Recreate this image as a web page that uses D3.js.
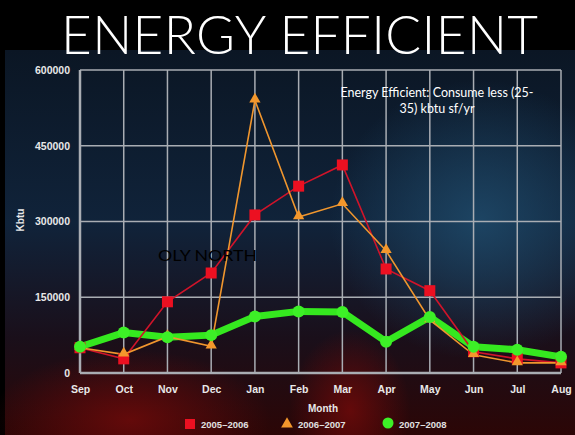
<!DOCTYPE html>
<html>
<head>
<meta charset="utf-8">
<script src="https://cdn.jsdelivr.net/npm/d3@7"></script>
<style>
  body { margin: 0; background: #000; }
  svg { display: block; }
</style>
</head>
<body>
<div id="chart"></div>
<script>
// chart data
const months = ["Sep", "Oct", "Nov", "Dec", "Jan", "Feb", "Mar", "Apr", "May", "Jun", "Jul", "Aug"];
const yTicks = [0, 150000, 300000, 450000, 600000];
const seriesNames = ["2005\u20132006", "2006\u20132007", "2007\u20132008"];
const sales0506 = [50000, 28000, 141000, 198000, 313000, 370000, 412000, 206000, 163000, 42000, 28000, 20000];
const sales0607 = [50000, 37000, 72000, 53000, 540000, 309000, 335000, 242000, 105000, 36000, 20000, 20000];
const sales0708 = [52000, 80000, 71000, 75000, 112000, 122000, 121000, 62000, 111000, 52000, 46000, 32000];

const W = 575, H = 435;
const margin = { top: 70, right: 14, bottom: 62, left: 80 },
    width = W - margin.left - margin.right,
    height = H - margin.top - margin.bottom;

const svg = d3.select("#chart")
    .append("svg")
    .attr("width", W)
    .attr("height", H);

// background: dark slide panel, blue at top fading to red at bottom
const defs = svg.append("defs");
const bg = defs.append("linearGradient")
    .attr("id", "bg")
    .attr("x1", 0).attr("y1", 0).attr("x2", 0).attr("y2", 1);
bg.append("stop").attr("offset", "0%").attr("stop-color", "#0b1624");
bg.append("stop").attr("offset", "45%").attr("stop-color", "#10233a");
bg.append("stop").attr("offset", "75%").attr("stop-color", "#1a0f1a");
bg.append("stop").attr("offset", "100%").attr("stop-color", "#2c0606");

const glowBlue = defs.append("radialGradient").attr("id", "glowBlue");
glowBlue.append("stop").attr("offset", "0%").attr("stop-color", "#1f4a6a").attr("stop-opacity", 0.85);
glowBlue.append("stop").attr("offset", "100%").attr("stop-color", "#1f4a6a").attr("stop-opacity", 0);

const glowRed = defs.append("radialGradient").attr("id", "glowRed");
glowRed.append("stop").attr("offset", "0%").attr("stop-color", "#6a0a0a").attr("stop-opacity", 0.9);
glowRed.append("stop").attr("offset", "100%").attr("stop-color", "#6a0a0a").attr("stop-opacity", 0);

svg.append("rect")
    .attr("width", W).attr("height", H)
    .attr("fill", "#000");

const panel = svg.append("g");
panel.append("rect")
    .attr("x", 5).attr("y", 50)
    .attr("width", W - 5).attr("height", H - 50)
    .attr("fill", "url(#bg)");
panel.append("ellipse")
    .attr("cx", 480).attr("cy", 220).attr("rx", 150).attr("ry", 140)
    .attr("fill", "url(#glowBlue)");
panel.append("ellipse")
    .attr("cx", 130).attr("cy", 420).attr("rx", 140).attr("ry", 70)
    .attr("fill", "url(#glowRed)");
panel.append("ellipse")
    .attr("cx", 350).attr("cy", 410).attr("rx", 60).attr("ry", 80)
    .attr("fill", "url(#glowRed)");

// title
svg.append("text")
    .attr("x", 61)
    .attr("y", 54)
    .attr("textLength", 477)
    .attr("lengthAdjust", "spacing")
    .attr("font-family", "Lato, 'Open Sans', sans-serif")
    .attr("font-weight", 300)
    .attr("font-size", "53px")
    .attr("fill", "#fff")
    .text("ENERGY EFFICIENT");

const g = svg.append("g")
    .attr("transform", `translate(${margin.left},${margin.top})`);

// scales
const x = d3.scalePoint()
    .domain(months)
    .range([0, 481]);

const y = d3.scaleLinear()
    .domain([0, 600000])
    .range([303, 0]);

// grid
g.append("g")
    .selectAll("line")
    .data(yTicks)
    .join("line")
    .attr("x1", 0).attr("x2", 481)
    .attr("y1", d => y(d)).attr("y2", d => y(d))
    .attr("stroke", "#a9adb3")
    .attr("stroke-width", d => d === 0 ? 2.5 : 1.5);

g.append("g")
    .selectAll("line")
    .data(months)
    .join("line")
    .attr("x1", d => x(d)).attr("x2", d => x(d))
    .attr("y1", 0).attr("y2", 303)
    .attr("stroke", "#a9adb3")
    .attr("stroke-width", (d, i) => i === 0 ? 2.5 : 1.5);

// axes (labels only)
const yAxis = g.append("g")
    .attr("transform", "translate(-7,0)")
    .call(d3.axisLeft(y).tickValues(yTicks).tickSize(0).tickFormat(d3.format("d")));
yAxis.select(".domain").remove();

const xAxis = g.append("g")
    .attr("transform", `translate(0,${303 + 7})`)
    .call(d3.axisBottom(x).tickSize(0).tickPadding(6));
xAxis.select(".domain").remove();

[yAxis, xAxis].forEach(a => a.selectAll("text")
    .attr("fill", "#e8e8e8")
    .attr("font-family", "'Liberation Sans', Arial, sans-serif")
    .attr("font-weight", "bold")
    .attr("font-size", "10.5px"));

svg.append("text")
    .attr("transform", "translate(24,220) rotate(-90)")
    .attr("text-anchor", "middle")
    .attr("fill", "#e8e8e8")
    .attr("font-family", "'Liberation Sans', Arial, sans-serif")
    .attr("font-weight", "bold")
    .attr("font-size", "10px")
    .text("Kbtu");

svg.append("text")
    .attr("x", 323)
    .attr("y", 412)
    .attr("text-anchor", "middle")
    .attr("fill", "#e8e8e8")
    .attr("font-family", "'Liberation Sans', Arial, sans-serif")
    .attr("font-weight", "bold")
    .attr("font-size", "10px")
    .text("Month");

// lines
const line = d3.line()
    .x((d, i) => x(months[i]))
    .y(d => y(d));

g.append("path")
    .datum(sales0708)
    .attr("d", line)
    .attr("fill", "none")
    .attr("stroke", "#35e81f")
    .attr("stroke-width", 7)
    .attr("stroke-linejoin", "round");

g.append("path")
    .datum(sales0506)
    .attr("d", line)
    .attr("fill", "none")
    .attr("stroke", "#d0142a")
    .attr("stroke-width", 1.6);

g.append("path")
    .datum(sales0607)
    .attr("d", line)
    .attr("fill", "none")
    .attr("stroke", "#f0962e")
    .attr("stroke-width", 1.6);

// markers
g.append("g")
    .selectAll("rect")
    .data(sales0506)
    .join("rect")
    .attr("x", (d, i) => x(months[i]) - 5.5)
    .attr("y", d => y(d) - 5.5)
    .attr("width", 11).attr("height", 11)
    .attr("fill", "#ec1021");

const tri = d3.symbol().type(d3.symbolTriangle).size(55);
g.append("g")
    .selectAll("path")
    .data(sales0607)
    .join("path")
    .attr("transform", (d, i) => `translate(${x(months[i])},${y(d) - 1})`)
    .attr("d", tri)
    .attr("fill", "#f3972c");

g.append("g")
    .selectAll("circle")
    .data(sales0708)
    .join("circle")
    .attr("cx", (d, i) => x(months[i]))
    .attr("cy", d => y(d))
    .attr("r", 6)
    .attr("fill", "#3df027");

// legend
const legend = svg.append("g")
    .attr("font-family", "'Liberation Sans', Arial, sans-serif")
    .attr("font-weight", "bold")
    .attr("font-size", "9.5px")
    .attr("fill", "#e0e0e0");
const legendX = [190, 287, 388];
legend.append("rect")
    .attr("x", legendX[0] - 5).attr("y", 419)
    .attr("width", 10).attr("height", 10)
    .attr("fill", "#ec1021");
legend.append("path")
    .attr("transform", `translate(${legendX[1]},424)`)
    .attr("d", d3.symbol().type(d3.symbolTriangle).size(60))
    .attr("fill", "#f3972c");
legend.append("circle")
    .attr("cx", legendX[2]).attr("cy", 423).attr("r", 5.5)
    .attr("fill", "#3df027");
seriesNames.forEach((name, i) => {
    legend.append("text")
        .attr("x", legendX[i] + 11)
        .attr("y", 428)
        .text(name);
});

// slide annotations
const note = svg.append("text")
    .attr("text-anchor", "middle")
    .attr("fill", "#fff")
    .attr("font-family", "Lato, 'Open Sans', sans-serif")
    .attr("font-size", "12.5px");
note.append("tspan").attr("x", 437).attr("y", 97).text("Energy Efficient: Consume less (25-");
note.append("tspan").attr("x", 437).attr("y", 113).text("35) kbtu sf/yr");

svg.append("text")
    .attr("x", 158)
    .attr("y", 261)
    .attr("textLength", 99)
    .attr("lengthAdjust", "spacingAndGlyphs")
    .attr("fill", "#000")
    .attr("font-family", "Lato, 'Open Sans', sans-serif")
    .attr("font-size", "15px")
    .text("OLY NORTH");
</script>
</body>
</html>
